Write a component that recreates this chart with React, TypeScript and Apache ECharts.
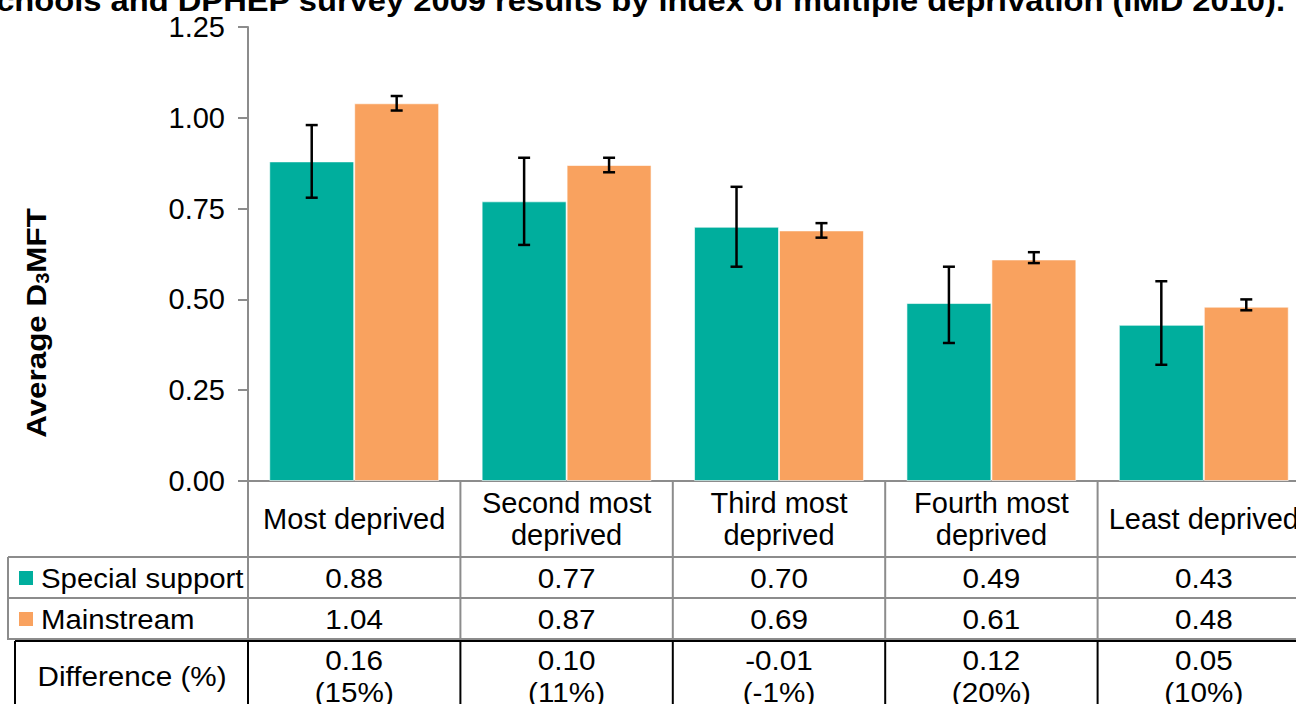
import React, { useEffect, useRef } from "react";
import * as echarts from "echarts";

const title =
  "Special support schools and DPHEP survey 2009 results by index of multiple deprivation (IMD 2010).";
const yAxisTitle = "Average D{sub|3}MFT";
const categories = [
  "Most deprived",
  "Second most\ndeprived",
  "Third most\ndeprived",
  "Fourth most\ndeprived",
  "Least deprived",
];
const seriesNames = ["Special support", "Mainstream"];
const specialSupport = [0.88, 0.77, 0.7, 0.49, 0.43];
const mainstream = [1.04, 0.87, 0.69, 0.61, 0.48];
const specialLow = [0.78, 0.65, 0.59, 0.38, 0.32];
const specialHigh = [0.98, 0.89, 0.81, 0.59, 0.55];
const mainLow = [1.02, 0.85, 0.67, 0.6, 0.47];
const mainHigh = [1.06, 0.89, 0.71, 0.63, 0.5];
const diffValues = [0.16, 0.1, -0.01, 0.12, 0.05];
const diffPct = [15, 11, -1, 20, 10];
const diffLabel = "Difference (%)";

const TEAL = "#00AE9D";
const ORANGE = "#F9A25F";
const GRAY = "#8C8C8C";
const FONT = "Liberation Sans, Arial, sans-serif";
const FS = 28;

const CHART_W = 1312;
const GRID_LEFT = 248;
const GRID_TOP = 27;
const AXIS_Y = 481;
const GRID_RIGHT_X = 1310;

function errorSeries(low: number[], high: number[], offset: number) {
  return {
    type: "custom",
    z: 10,
    data: low.map((l, i) => [i, l, high[i]]),
    encode: { x: 0, y: [1, 2] },
    renderItem: (_params: any, api: any) => {
      const i = api.value(0);
      const lo = api.coord([i, api.value(1)]);
      const hi = api.coord([i, api.value(2)]);
      const band = api.size([1, 0])[0];
      const x = lo[0] + offset * band;
      const cap = 6;
      const st = { stroke: "#000", lineWidth: 2.5 };
      return {
        type: "group",
        children: [
          { type: "line", shape: { x1: x, y1: hi[1], x2: x, y2: lo[1] }, style: st },
          { type: "line", shape: { x1: x - cap, y1: hi[1], x2: x + cap, y2: hi[1] }, style: st },
          { type: "line", shape: { x1: x - cap, y1: lo[1], x2: x + cap, y2: lo[1] }, style: st },
        ],
      };
    },
  };
}

export default function App() {
  const ref = useRef<HTMLDivElement>(null);
  useEffect(() => {
    if (!ref.current) return;
    const chart = echarts.init(ref.current, null, { renderer: "svg" });
    chart.setOption({
      animation: false,
      textStyle: { fontFamily: FONT },
      grid: {
        left: GRID_LEFT,
        top: GRID_TOP,
        right: CHART_W - GRID_RIGHT_X,
        bottom: 704 - AXIS_Y,
        containLabel: false,
      },
      xAxis: {
        type: "category",
        data: categories,
        axisLine: { show: true, lineStyle: { color: GRAY, width: 2 } },
        axisTick: { show: false },
        axisLabel: {
          interval: 0,
          color: "#000",
          fontSize: 29,
          lineHeight: 32,
          verticalAlign: "middle",
          margin: 38,
          fontFamily: FONT,
        },
      },
      yAxis: {
        type: "value",
        min: 0,
        max: 1.25,
        interval: 0.25,
        axisLine: { show: true, lineStyle: { color: GRAY, width: 2 } },
        axisTick: { show: true, length: 10, lineStyle: { color: GRAY, width: 2 } },
        splitLine: { show: false },
        axisLabel: {
          color: "#000",
          fontSize: 29,
          margin: 23,
          fontFamily: FONT,
          formatter: (v: number) => v.toFixed(2),
        },
      },
      series: [
        {
          name: seriesNames[0],
          type: "bar",
          data: specialSupport,
          barGap: "0%",
          barCategoryGap: "20%",
          itemStyle: { color: TEAL, borderColor: "rgba(255,255,255,0.6)", borderWidth: 1 },
        },
        {
          name: seriesNames[1],
          type: "bar",
          data: mainstream,
          barGap: "0%",
          barCategoryGap: "20%",
          itemStyle: { color: ORANGE, borderColor: "rgba(255,255,255,0.6)", borderWidth: 1 },
        },
        errorSeries(specialLow, specialHigh, -0.2),
        errorSeries(mainLow, mainHigh, 0.2),
      ],
    });

    const centers = categories.map((_, i) => chart.convertToPixel({ xAxisIndex: 0 }, i) as number);
    const band = centers.length > 1 ? centers[1] - centers[0] : 212;
    const bounds = centers.map((c) => c - band / 2).concat([centers[centers.length - 1] + band / 2]);
    const rightEdge = bounds[bounds.length - 1];

    const R1 = 557, R2 = 598, R3 = 640, BOTTOM = 720;
    const g: any[] = [];
    const line = (x1: number, y1: number, x2: number, y2: number, color: string, w = 2) =>
      g.push({ type: "line", shape: { x1, y1, x2, y2 }, style: { stroke: color, lineWidth: w }, silent: true });
    const text = (x: number, y: number, t: string, align = "center", bold = false, fs = FS, sx = 1.06) =>
      g.push({
        type: "text",
        x,
        y,
        scaleX: sx,
        style: {
          text: t,
          fill: "#000",
          font: `${bold ? "bold " : ""}${fs}px ${FONT}`,
          align,
          verticalAlign: "middle",
        },
        silent: true,
      });

    // title (cut at the top)
    text(1285, 1, title, "right", true, 30, 1.09);

    // y-axis title with subscript
    g.push({
      type: "text",
      x: 36,
      y: 323,
      rotation: Math.PI / 2,
      scaleX: 1.12,
      style: {
        text: yAxisTitle,
        fill: "#000",
        font: `bold ${FS}px ${FONT}`,
        align: "center",
        verticalAlign: "middle",
        rich: {
          sub: {
            fontSize: 18,
            fontWeight: "bold",
            fill: "#000",
            fontFamily: FONT,
            padding: [14, 0, 0, 0],
          },
        },
      },
      silent: true,
    });

    // gray table grid
    line(8, R1, rightEdge, R1, GRAY);
    line(8, R2, rightEdge, R2, GRAY);
    line(8, R3 - 1, rightEdge, R3 - 1, GRAY);
    line(8, R1, 8, R3, GRAY);
    bounds.forEach((b) => line(b, AXIS_Y, b, R3, GRAY));
    // black difference row
    line(15, R3 + 1, rightEdge, R3 + 1, "#000");
    line(15, R3 + 1, 15, BOTTOM, "#000");
    bounds.forEach((b) => line(b, R3 + 1, b, BOTTOM, "#000"));

    // legend keys
    g.push({ type: "rect", shape: { x: 19, y: 571, width: 14, height: 14 }, style: { fill: TEAL } });
    g.push({ type: "rect", shape: { x: 19, y: 612, width: 14, height: 14 }, style: { fill: ORANGE } });
    text(41, 578, seriesNames[0], "left", false, FS, 1.05);
    text(41, 619, seriesNames[1], "left", false, FS, 1.05);
    text(132, 676, diffLabel, "center");

    centers.forEach((c, i) => {
      text(c, 578, specialSupport[i].toFixed(2));
      text(c, 619, mainstream[i].toFixed(2));
      text(c, 660, diffValues[i].toFixed(2));
      text(c, 692, `(${diffPct[i]}%)`);
    });

    chart.setOption({ graphic: g });
    return () => chart.dispose();
  }, []);
  return (
    <div
      style={{
        position: "absolute",
        left: 0,
        top: 0,
        width: 1296,
        height: 704,
        overflow: "hidden",
        background: "#fff",
      }}
    >
      <div ref={ref} style={{ width: CHART_W, height: 704 }} />
    </div>
  );
}
